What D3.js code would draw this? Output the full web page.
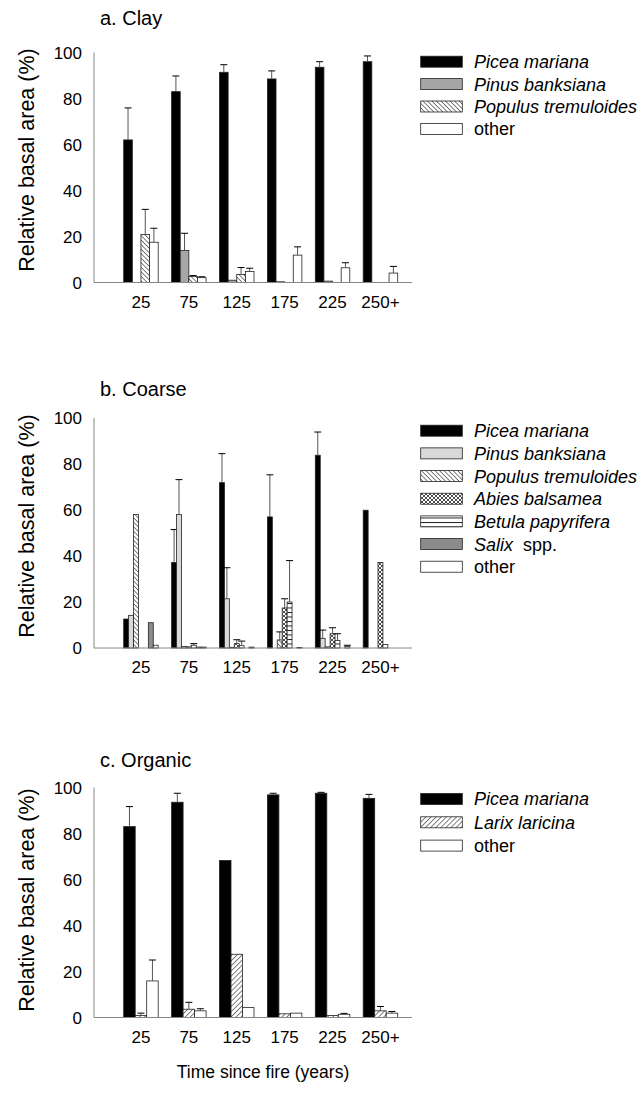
<!DOCTYPE html>
<html>
<head>
<meta charset="utf-8">
<script src="https://cdn.jsdelivr.net/npm/d3@7"></script>
<style>
  body { margin: 0; background: #fff; }
  svg { display: block; font-family: "Liberation Sans", Arial, sans-serif; }
</style>
</head>
<body>
<svg id="chart" width="641" height="1093"></svg>
<script>
// time since fire categories
var cats = ["25", "75", "125", "175", "225", "250+"];
var yTicks = [0, 20, 40, 60, 80, 100];

// a. Clay
var clayPicea    = [62, 83, 91.4, 88.5, 93.6, 96];
var clayPiceaErr = [13.9, 6.8, 3.3, 3.5, 2.4, 2.5];
var clayPinus    = [0, 13.9, 1, 0.3, 0.6, 0];
var clayPinusErr = [0, 7.5, 0, 0, 0, 0];
var clayPopulus    = [20.9, 2.6, 3.5, 0, 0, 0];
var clayPopulusErr = [10.9, 0.4, 3, 0, 0, 0];
var clayOther    = [17.5, 2.1, 4.8, 11.9, 6.4, 4.1];
var clayOtherErr = [6.1, 0.4, 1.4, 3.6, 2.2, 2.9];

// b. Coarse
var coarsePicea    = [12.6, 37.2, 71.9, 57, 83.8, 59.9];
var coarsePiceaErr = [0, 14.3, 12.6, 18.3, 10.1, 0];
var coarsePinus    = [14.2, 58, 21.4, 0, 4.2, 0];
var coarsePinusErr = [0, 15.2, 13.5, 0, 3.6, 0];
var coarsePopulus    = [58, 0.7, 0.3, 3.5, 0.5, 0];
var coarsePopulusErr = [0, 0, 0, 3.5, 0, 0];
var coarseAbies    = [0, 0.5, 1.9, 17.4, 6.2, 37.2];
var coarseAbiesErr = [0, 0, 1.7, 4, 2.6, 0];
var coarseBetula    = [0, 1.2, 1, 20, 3.3, 1.5];
var coarseBetulaErr = [0, 0.7, 2, 18, 2.9, 0];
var coarseSalix    = [11, 0.4, 0, 0, 0, 0];
var coarseSalixErr = [0, 0, 0, 0, 0, 0];
var coarseOther    = [1.2, 0.4, 0.4, 0.2, 0.7, 0];
var coarseOtherErr = [0, 0, 0, 0, 0.5, 0];

// c. Organic
var orgPicea    = [83, 93.6, 68.3, 96.8, 97.5, 95.3];
var orgPiceaErr = [8.7, 3.9, 0, 0.7, 0.4, 1.7];
var orgLarix    = [0.9, 3.6, 27.5, 1.6, 0.9, 2.9];
var orgLarixErr = [1, 3, 0, 0, 0, 1.9];
var orgOther    = [15.9, 2.9, 4.3, 1.9, 1.4, 1.9];
var orgOtherErr = [9.1, 0.9, 0, 0, 0.4, 0.7];

var svg = d3.select("#chart");
var defs = svg.append("defs");

function hatch(id, angle, size, width) {
  var p = defs.append("pattern")
      .attr("id", id)
      .attr("patternUnits", "userSpaceOnUse")
      .attr("width", size).attr("height", size)
      .attr("patternTransform", "rotate(" + angle + ")");
  p.append("rect").attr("width", size).attr("height", size).attr("fill", "#fff");
  p.append("line").attr("x1", 0).attr("y1", 0).attr("x2", 0).attr("y2", size)
      .attr("stroke", "#000").attr("stroke-width", width);
}
hatch("populus", -45, 3.2, 1);
hatch("larix", 45, 3.6, 1);

var cross = defs.append("pattern").attr("id", "abies")
    .attr("patternUnits", "userSpaceOnUse").attr("width", 4).attr("height", 4);
cross.append("rect").attr("width", 4).attr("height", 4).attr("fill", "#fff");
cross.append("path").attr("d", "M0,0L4,4M4,0L0,4").attr("stroke", "#000").attr("stroke-width", 0.7);

var horiz = defs.append("pattern").attr("id", "betula")
    .attr("patternUnits", "userSpaceOnUse").attr("width", 4).attr("height", 4.5);
horiz.append("rect").attr("width", 4).attr("height", 4.5).attr("fill", "#fff");
horiz.append("line").attr("x1", 0).attr("x2", 4).attr("y1", 0.5).attr("y2", 0.5)
    .attr("stroke", "#000").attr("stroke-width", 0.9);

var S = {
  picea:  {name: "Picea mariana", fill: "#000"},
  pinusA: {name: "Pinus banksiana", fill: "#a6a6a6"},
  pinusB: {name: "Pinus banksiana", fill: "#d9d9d9"},
  populus:{name: "Populus tremuloides", fill: "url(#populus)"},
  abies:  {name: "Abies balsamea", fill: "url(#abies)"},
  betula: {name: "Betula papyrifera", fill: "url(#betula)"},
  salix:  {name: "Salix", fill: "#8c8c8c", extra: "  spp."},
  larix:  {name: "Larix laricina", fill: "url(#larix)"},
  other:  {name: "other", fill: "#fff", plain: true}
};

var panels = [
  {title: "a. Clay", top: 52.5, base: 282.5, titleY: 24.5, yTitle: 160, legY: 61.7, legStep: 22.4,
   series: [[S.picea, clayPicea, clayPiceaErr], [S.pinusA, clayPinus, clayPinusErr],
            [S.populus, clayPopulus, clayPopulusErr], [S.other, clayOther, clayOtherErr]]},
  {title: "b. Coarse", top: 418, base: 648, titleY: 395.5, yTitle: 526, legY: 430.7, legStep: 22.67,
   series: [[S.picea, coarsePicea, coarsePiceaErr], [S.pinusB, coarsePinus, coarsePinusErr],
            [S.populus, coarsePopulus, coarsePopulusErr], [S.abies, coarseAbies, coarseAbiesErr],
            [S.betula, coarseBetula, coarseBetulaErr], [S.salix, coarseSalix, coarseSalixErr],
            [S.other, coarseOther, coarseOtherErr]]},
  {title: "c. Organic", top: 787.5, base: 1017.5, titleY: 766.5, yTitle: 900, legY: 799, legStep: 23.3,
   series: [[S.picea, orgPicea, orgPiceaErr], [S.larix, orgLarix, orgLarixErr],
            [S.other, orgOther, orgOtherErr]]}
];

var axisX = 94, axisEnd = 412;
var x0 = d3.scaleBand().domain(cats).range([117, 404.4]).paddingInner(0.28).paddingOuter(0.14);

panels.forEach(function(p) {
  var g = svg.append("g");
  var y = d3.scaleLinear().domain([0, 100]).range([p.base, p.top]);
  var keys = p.series.map(function(s, i) { return i; });
  var x1 = d3.scaleBand().domain(keys).range([0, x0.bandwidth()]);

  g.append("text").attr("x", 100).attr("y", p.titleY)
      .attr("font-size", 20).attr("fill", "#000").text(p.title);

  // y labels, no tick marks
  g.selectAll(".yl").data(yTicks).enter().append("text")
      .attr("x", 82).attr("y", function(d) { return y(d); })
      .attr("dy", "0.36em").attr("text-anchor", "end")
      .attr("font-size", 17).text(function(d) { return d; });

  g.append("text")
      .attr("transform", "translate(34," + p.yTitle + ") rotate(-90)")
      .attr("text-anchor", "middle").attr("font-size", 21.5)
      .text("Relative basal area (%)");

  // bars
  p.series.forEach(function(s, si) {
    var sp = s[0], vals = s[1], errs = s[2];
    g.append("g").selectAll("rect").data(cats).enter().append("rect")
        .attr("x", function(c) { return x0(c) + x1(si); })
        .attr("y", function(c, i) { return y(vals[i]); })
        .attr("width", x1.bandwidth())
        .attr("height", function(c, i) { return y(0) - y(vals[i]); })
        .attr("fill", sp.fill)
        .attr("stroke", "#222")
        .attr("stroke-width", 0.8)
        .style("display", function(c, i) { return vals[i] > 0 ? null : "none"; });

    var eb = g.append("g");
    cats.forEach(function(c, i) {
      if (!errs[i]) return;
      var cx = x0(c) + x1(si) + x1.bandwidth() / 2;
      eb.append("line").attr("x1", cx).attr("x2", cx)
          .attr("y1", y(vals[i])).attr("y2", y(vals[i] + errs[i]))
          .attr("stroke", "#555").attr("stroke-width", 1);
      eb.append("line").attr("x1", cx - 3.5).attr("x2", cx + 3.5)
          .attr("y1", y(vals[i] + errs[i])).attr("y2", y(vals[i] + errs[i]))
          .attr("stroke", "#000").attr("stroke-width", 1);
    });
  });

  // axis lines
  g.append("line").attr("x1", axisX).attr("x2", axisX).attr("y1", p.top).attr("y2", p.base)
      .attr("stroke", "#868686").attr("stroke-width", 1);
  g.append("line").attr("x1", axisX).attr("x2", axisEnd).attr("y1", p.base).attr("y2", p.base)
      .attr("stroke", "#868686").attr("stroke-width", 1);

  // x labels
  g.selectAll(".xl").data(cats).enter().append("text")
      .attr("x", function(c) { return x0(c) + x0.bandwidth() / 2; })
      .attr("y", p.base + 25).attr("text-anchor", "middle")
      .attr("font-size", 17).text(function(c) { return c; });

  // legend
  var leg = g.append("g");
  p.series.forEach(function(s, si) {
    var sp = s[0];
    var ly = p.legY + si * p.legStep;
    leg.append("rect").attr("x", 420.7).attr("y", ly - 5.5).attr("width", 41.6).attr("height", 11)
        .attr("fill", sp.fill).attr("stroke", "#222").attr("stroke-width", 0.8);
    var t = leg.append("text").attr("x", 474).attr("y", ly).attr("dy", "0.36em").attr("font-size", 18);
    t.append("tspan").attr("font-style", sp.plain ? "normal" : "italic").text(sp.name);
    if (sp.extra) t.append("tspan").attr("xml:space", "preserve").text(sp.extra);
  });
});

svg.append("text").attr("x", 263).attr("y", 1078).attr("text-anchor", "middle")
    .attr("font-size", 17.5).text("Time since fire (years)");
</script>
</body>
</html>
